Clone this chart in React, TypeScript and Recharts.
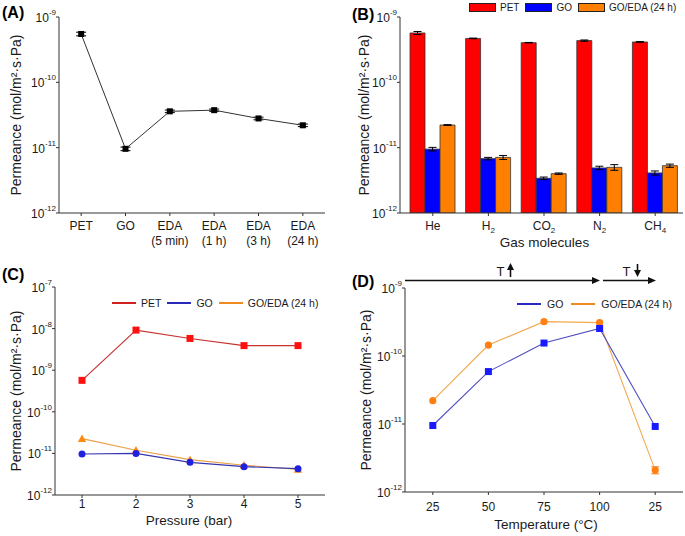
import React from 'react';
import { ComposedChart, Bar, Line, XAxis, YAxis, ErrorBar, ReferenceArea, Legend } from 'recharts';

const FONT = '"Liberation Sans", Arial, Helvetica, sans-serif';
const TEXT = '#1a1a1a';
const AXIS = '#333333';
const YTITLE = 'Permeance (mol/m\u00b2\u00b7s\u00b7Pa)';

// ---------- (A) ----------
const aCategories = [['PET'], ['GO'], ['EDA', '(5 min)'], ['EDA', '(1 h)'], ['EDA', '(3 h)'], ['EDA', '(24 h)']];
const aPermeance = [5.5e-10, 9.6e-12, 3.6e-11, 3.75e-11, 2.8e-11, 2.2e-11];
const aError = [0.35e-10, 0.6e-12, 1.6e-12, 1.5e-12, 1.3e-12, 1.0e-12];
const aDecades = [-12, -11, -10, -9];

// ---------- (B) ----------
const bGasBase = ['He', 'H', 'CO', 'N', 'CH'];
const bGasSub = ['', '2', '2', '2', '4'];
const bSeriesNames = ['PET', 'GO', 'GO/EDA (24 h)'];
const bSeriesColors = ['#ff0000', '#0000ff', '#ff8000'];
const bPET = [5.7e-10, 4.7e-10, 4.05e-10, 4.35e-10, 4.15e-10];
const bPETErr = [0.3e-10, 0.05e-10, 0.03e-10, 0.1e-10, 0.05e-10];
const bGO = [9.5e-12, 6.8e-12, 3.4e-12, 4.9e-12, 4.1e-12];
const bGOErr = [0.6e-12, 0.3e-12, 0.15e-12, 0.3e-12, 0.3e-12];
const bEDA = [2.22e-11, 7.1e-12, 4.0e-12, 5.0e-12, 5.3e-12];
const bEDAErr = [0.3e-12, 0.5e-12, 0.1e-12, 0.5e-12, 0.3e-12];
const bDecades = [-12, -11, -10, -9];

// ---------- (C) ----------
const cPressure = [1, 2, 3, 4, 5];
const cPET = [5.7e-10, 9.2e-9, 5.8e-9, 3.9e-9, 3.9e-9];
const cGO = [9.7e-12, 1.0e-11, 6.1e-12, 4.8e-12, 4.3e-12];
const cEDA = [2.27e-11, 1.19e-11, 7.1e-12, 5.2e-12, 4.1e-12];
const cDecades = [-12, -11, -10, -9, -8, -7];

// ---------- (D) ----------
const dTemperature = ['25', '50', '75', '100', '25'];
const dGO = [9.5e-12, 5.9e-11, 1.55e-10, 2.54e-10, 9.2e-12];
const dEDA = [2.2e-11, 1.45e-10, 3.2e-10, 3.1e-10, 2.1e-12];
const dEDAErr = [0, 0, 0, 0, 0.25e-12];
const dDecades = [-12, -11, -10, -9];

// ---------- helpers ----------
const renderLogTick = (p: any) => {
  const exp = Math.round(Math.log10(p.payload.value));
  return (
    <text x={p.x} y={p.y} dy={5} textAnchor="end" fontFamily={FONT} fontSize={12} fill={TEXT}>
      10<tspan dy={-7} fontSize={8}>{String(exp)}</tspan>
    </text>
  );
};

function yTitle(cx: number, cy: number) {
  return () => (
    <text x={cx} y={cy} transform={`rotate(-90, ${cx}, ${cy})`} textAnchor="middle" dominantBaseline="central"
      fontFamily={FONT} fontSize={14} fill={TEXT}>{YTITLE}</text>
  );
}

function xTitle(text: string, cx: number, baseline: number) {
  return () => (
    <text x={cx} y={baseline} textAnchor="middle" fontFamily={FONT} fontSize={13.5} fill={TEXT}>{text}</text>
  );
}

function logYAxes(decades: number[], width: number, titleCx: number, titleCy: number) {
  const majors = decades.map((e) => Math.pow(10, e));
  const minors: number[] = [];
  decades.slice(0, -1).forEach((e) => {
    for (let k = 2; k <= 9; k++) minors.push(k * Math.pow(10, e));
  });
  const domain = [majors[0], majors[majors.length - 1]];
  return [
    <YAxis key="main" yAxisId="main" type="number" scale="log" domain={domain} allowDataOverflow ticks={majors}
      interval={0} width={width} tick={renderLogTick} tickSize={3} tickMargin={0} stroke={AXIS}
      label={yTitle(titleCx, titleCy)} />,
    <YAxis key="minor" yAxisId="minor" type="number" scale="log" domain={domain} allowDataOverflow ticks={minors}
      interval={0} width={0} mirror tick={false} tickSize={3} axisLine={false} stroke={AXIS} />,
  ];
}

const squareDot = (size: number, fill: string) => (p: any) => (
  <rect key={`sq${p.index}`} x={p.cx - size / 2} y={p.cy - size / 2} width={size} height={size} fill={fill} />
);
const circleDot = (r: number, fill: string) => (p: any) => (
  <circle key={`ci${p.index}`} cx={p.cx} cy={p.cy} r={r} fill={fill} />
);
const triangleDot = (s: number, fill: string) => (p: any) => (
  <polygon key={`tr${p.index}`} points={`${p.cx},${p.cy - s} ${p.cx - s},${p.cy + s * 0.8} ${p.cx + s},${p.cy + s * 0.8}`} fill={fill} />
);

type LegItem = { label: string; color: string; kind: 'box' | 'line' };
function LegendRow({ items, fontSize, swW, swGap, itemGap }: { items: LegItem[]; fontSize: number; swW: number; swGap: number; itemGap: number }) {
  return (
    <div style={{ display: 'flex', alignItems: 'center', height: 12, fontFamily: FONT, fontSize, color: TEXT, whiteSpace: 'nowrap', lineHeight: '12px' }}>
      {items.map((it, i) => (
        <div key={i} style={{ display: 'flex', alignItems: 'center', marginLeft: i ? itemGap : 0 }}>
          {it.kind === 'box'
            ? <div style={{ width: swW, height: 9, background: it.color, border: '1px solid #222', boxSizing: 'border-box' }} />
            : <div style={{ width: swW, height: 2, background: it.color }} />}
          <span style={{ marginLeft: swGap }}>{it.label}</span>
        </div>
      ))}
    </div>
  );
}

function legendEl(items: LegItem[], left: number, top: number, fontSize: number, swW: number, swGap: number, itemGap: number) {
  return (
    <Legend key="legend" verticalAlign="middle" layout="horizontal" align="center"
      wrapperStyle={{ left, top, width: 'auto', height: 'auto' }}
      content={() => <LegendRow items={items} fontSize={fontSize} swW={swW} swGap={swGap} itemGap={itemGap} />} />
  );
}

// ---------- panels ----------
function PanelA() {
  const data = aPermeance.map((v, i) => ({ pos: i + 1, v, err: aError[i] }));
  const W = 340, H = 268, top = 17, right = 15, yW = 59, xH = 55;
  const cy = top + (H - top - xH) / 2;
  const renderTick = (p: any) => {
    const lines = aCategories[Math.round(p.payload.value) - 1] || [];
    return (
      <text x={p.x} y={p.y} textAnchor="middle" fontFamily={FONT} fontSize={12} fill={TEXT}>
        {lines.map((l, i) => <tspan key={i} x={p.x} dy={i === 0 ? 14 : 15}>{l}</tspan>)}
      </text>
    );
  };
  return (
    <ComposedChart width={W} height={H} data={data} margin={{ top, right, bottom: 0, left: 0 }}>
      <ReferenceArea yAxisId="main" fill="none" fillOpacity={0} stroke={AXIS} ifOverflow="visible" />
      <XAxis dataKey="pos" type="number" domain={[0.5, aCategories.length + 0.5]} ticks={aCategories.map((_, i) => i + 1)}
        interval={0} height={xH} tickSize={3} tickMargin={0} stroke={AXIS} tick={renderTick} allowDataOverflow />
      {logYAxes(aDecades, yW, 16, cy)}
      <Line yAxisId="main" dataKey="v" stroke="#333" strokeWidth={1} dot={squareDot(6, '#000')} isAnimationActive={false}>
        <ErrorBar dataKey="err" width={5} stroke="#000" strokeWidth={1} direction="y" isAnimationActive={false} />
      </Line>
    </ComposedChart>
  );
}

function PanelB() {
  const data = bGasBase.map((g, i) => ({
    gas: g + bGasSub[i], pet: bPET[i], petE: bPETErr[i], go: bGO[i], goE: bGOErr[i], eda: bEDA[i], edaE: bEDAErr[i],
  }));
  const W = 345, H = 268, top = 17, right = 2, yW = 60, xH = 55;
  const cy = top + (H - top - xH) / 2;
  const renderTick = (p: any) => {
    const i = p.index;
    return (
      <text x={p.x} y={p.y} dy={14} textAnchor="middle" fontFamily={FONT} fontSize={12} fill={TEXT}>
        {bGasBase[i]}{bGasSub[i] ? <tspan dy={3} fontSize={8}>{bGasSub[i]}</tspan> : null}
      </text>
    );
  };
  const keys = ['pet', 'go', 'eda'];
  return (
    <ComposedChart width={W} height={H} data={data} margin={{ top, right, bottom: 0, left: 0 }} barCategoryGap={5} barGap={0}>
      <XAxis dataKey="gas" type="category" scale="band" padding={{ left: 5, right: 0 }} interval={0} height={xH}
        tickSize={3} tickMargin={0} stroke={AXIS} tick={renderTick} label={xTitle('Gas molecules', 204.5, 247)} />
      {logYAxes(bDecades, yW, 24, cy)}
      {keys.map((k, i) => (
        <Bar key={k} yAxisId="main" dataKey={k} name={bSeriesNames[i]} fill={bSeriesColors[i]} stroke="#333" strokeWidth={0.8}
          isAnimationActive={false}>
          <ErrorBar dataKey={`${k}E`} width={4} stroke="#000" strokeWidth={1} direction="y" isAnimationActive={false} />
        </Bar>
      ))}
      {legendEl(bSeriesNames.map((n, i) => ({ label: n, color: bSeriesColors[i], kind: 'box' as const })), 129, 1.5, 10, 27, 4, 6)}
    </ComposedChart>
  );
}

function PanelC() {
  const data = cPressure.map((p, i) => ({ p, pet: cPET[i], go: cGO[i], eda: cEDA[i] }));
  const W = 340, H = 268, top = 19, right = 15, yW = 55, xH = 41;
  const cy = top + (H - top - xH) / 2;
  const renderTick = (p: any) => (
    <text x={p.x} y={p.y} dy={10} textAnchor="middle" fontFamily={FONT} fontSize={12} fill={TEXT}>{p.payload.value}</text>
  );
  const items: LegItem[] = [
    { label: 'PET', color: '#d02020', kind: 'line' },
    { label: 'GO', color: '#2a2ab8', kind: 'line' },
    { label: 'GO/EDA (24 h)', color: '#f08a20', kind: 'line' },
  ];
  return (
    <ComposedChart width={W} height={H} data={data} margin={{ top, right, bottom: 0, left: 0 }}>
      <ReferenceArea yAxisId="main" fill="none" fillOpacity={0} stroke={AXIS} ifOverflow="visible" />
      <XAxis dataKey="p" type="number" domain={[0.5, 5.5]} ticks={cPressure} interval={0} height={xH} tickSize={3}
        tickMargin={0} stroke={AXIS} tick={renderTick} allowDataOverflow label={xTitle('Pressure (bar)', 189, 257)} />
      {logYAxes(cDecades, yW, 16, cy)}
      <Line yAxisId="main" dataKey="pet" stroke="#c83030" strokeWidth={1.1} dot={squareDot(7, '#ff1010')} isAnimationActive={false} />
      <Line yAxisId="main" dataKey="eda" stroke="#e8a048" strokeWidth={1.1} dot={triangleDot(4.2, '#ff8a10')} isAnimationActive={false} />
      <Line yAxisId="main" dataKey="go" stroke="#3535b0" strokeWidth={1.1} dot={circleDot(3.5, '#2020e0')} isAnimationActive={false} />
      {legendEl(items, 112, 29, 10.5, 24, 5, 6)}
    </ComposedChart>
  );
}

function PanelD() {
  const data = dTemperature.map((t, i) => ({ pos: i + 1, go: dGO[i], eda: dEDA[i], edaE: dEDAErr[i] }));
  const W = 345, H = 268, top = 20, right = 2, yW = 65, xH = 44;
  const cy = top + (H - top - xH) / 2;
  const renderTick = (p: any) => (
    <text x={p.x} y={p.y} dy={16} textAnchor="middle" fontFamily={FONT} fontSize={12} fill={TEXT}>
      {dTemperature[Math.round(p.payload.value) - 1]}
    </text>
  );
  const items: LegItem[] = [
    { label: 'GO', color: '#2a2ac0', kind: 'line' },
    { label: 'GO/EDA (24 h)', color: '#f08a20', kind: 'line' },
  ];
  return (
    <ComposedChart width={W} height={H} data={data} margin={{ top, right, bottom: 0, left: 0 }}>
      <ReferenceArea yAxisId="main" fill="none" fillOpacity={0} stroke={AXIS} ifOverflow="visible" />
      <XAxis dataKey="pos" type="number" domain={[0.5, dTemperature.length + 0.5]} ticks={dTemperature.map((_, i) => i + 1)}
        interval={0} height={xH} tickSize={3} tickMargin={0} stroke={AXIS} tick={renderTick} allowDataOverflow
        label={xTitle('Temperature (\u00b0C)', 206, 261)} />
      {logYAxes(dDecades, yW, 26, cy)}
      <Line yAxisId="main" dataKey="eda" stroke="#f2a850" strokeWidth={1.1} dot={circleDot(3.6, '#ff7f10')} isAnimationActive={false}>
        <ErrorBar dataKey="edaE" width={4} stroke="#ff7f10" strokeWidth={1} direction="y" isAnimationActive={false} />
      </Line>
      <Line yAxisId="main" dataKey="go" stroke="#5050c0" strokeWidth={1.1} dot={squareDot(7, '#1a1aff')} isAnimationActive={false} />
      {legendEl(items, 177, 30, 10.5, 24, 6, 8)}
    </ComposedChart>
  );
}

export default function App() {
  return (
    <div style={{ position: 'absolute', left: 0, top: 0, width: 685, height: 536, background: '#fff', overflow: 'hidden' }}>
      <div style={{ position: 'absolute', left: 0, top: 0 }}><PanelA /></div>
      <div style={{ position: 'absolute', left: 340, top: 0 }}><PanelB /></div>
      <div style={{ position: 'absolute', left: 0, top: 268 }}><PanelC /></div>
      <div style={{ position: 'absolute', left: 340, top: 268 }}><PanelD /></div>
      <svg style={{ position: 'absolute', left: 0, top: 0, pointerEvents: 'none' }} width={685} height={536}>
        <g fontFamily={FONT} fontWeight="bold" fontSize={16} fill="#000">
          <text x={2} y={18}>(A)</text>
          <text x={352} y={20}>(B)</text>
          <text x={2} y={280}>(C)</text>
          <text x={352} y={287}>(D)</text>
        </g>
        <g stroke="#111" strokeWidth={1.3} fill="#111">
          <line x1={405} y1={280.5} x2={594} y2={280.5} />
          <polygon points="600,280.5 592,277 592,284" stroke="none" />
          <line x1={603} y1={280.5} x2={650} y2={280.5} />
          <polygon points="656,280.5 648,277 648,284" stroke="none" />
          <line x1={510.5} y1={268} x2={510.5} y2={277} strokeWidth={1.6} />
          <polygon points="510.5,263 507,270 514,270" stroke="none" />
          <line x1={637.5} y1={264} x2={637.5} y2={272} strokeWidth={1.6} />
          <polygon points="637.5,277 634,270 641,270" stroke="none" />
        </g>
        <g fontFamily={FONT} fontSize={13} fill={TEXT} textAnchor="middle">
          <text x={500.5} y={275.5}>T</text>
          <text x={626.5} y={275.5}>T</text>
        </g>
      </svg>
    </div>
  );
}
